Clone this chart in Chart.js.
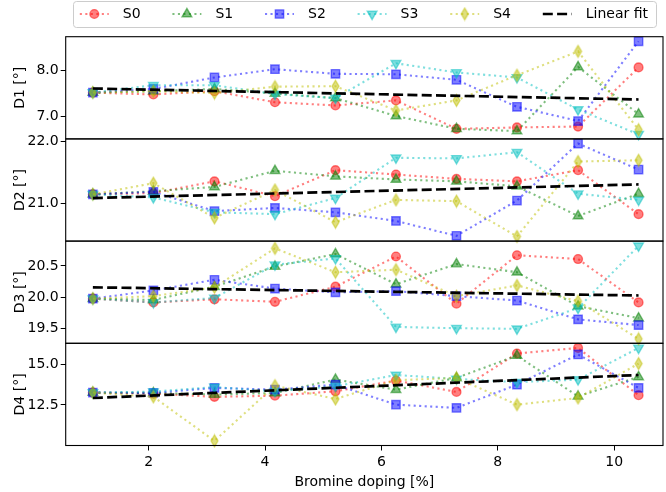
<!DOCTYPE html>
<html>
<head>
<meta charset="utf-8">
<script src="https://cdn.jsdelivr.net/npm/chart.js@4.4.1/dist/chart.umd.min.js"></script>
<style>
  html, body { margin: 0; padding: 0; background: #fff; }
  #wrap { width: 666px; height: 492px; }
</style>
</head>
<body>
<div id="wrap"><canvas id="chart" width="666" height="492"></canvas></div>
<script>
// --- DATA ---
const doping = [1.04, 2.08, 3.13, 4.17, 5.21, 6.25, 7.29, 8.33, 9.38, 10.42];
const seriesNames = ['S0', 'S1', 'S2', 'S3', 'S4'];
const panelNames = ['D1', 'D2', 'D3', 'D4'];

const d1s0 = [7.52, 7.48, 7.55, 7.31, 7.24, 7.35, 6.73, 6.76, 6.78, 8.07];
const d1s1 = [7.52, 7.55, 7.60, 7.50, 7.40, 7.01, 6.73, 6.68, 8.08, 7.05];
const d1s2 = [7.52, 7.60, 7.85, 8.03, 7.93, 7.92, 7.80, 7.21, 6.90, 8.64];
const d1s3 = [7.52, 7.68, 7.68, 7.49, 7.40, 8.16, 7.96, 7.85, 7.15, 6.61];
const d1s4 = [7.52, 7.55, 7.51, 7.65, 7.66, 7.13, 7.35, 7.90, 8.42, 6.71];
const d1fit = [7.61, 7.37];

const d2s0 = [21.14, 21.16, 21.35, 21.11, 21.53, 21.46, 21.39, 21.35, 21.53, 20.82];
const d2s1 = [21.14, 21.19, 21.26, 21.52, 21.43, 21.38, 21.35, 21.27, 20.79, 21.15];
const d2s2 = [21.14, 21.18, 20.87, 20.92, 20.85, 20.71, 20.47, 21.04, 21.96, 21.54];
const d2s3 = [21.14, 21.09, 20.85, 20.82, 21.08, 21.73, 21.72, 21.82, 21.15, 21.05];
const d2s4 = [21.14, 21.32, 20.76, 21.21, 20.69, 21.05, 21.03, 20.46, 21.67, 21.69];
const d2fit = [21.08, 21.30];

const d3s0 = [19.98, 19.92, 19.97, 19.93, 20.17, 20.65, 19.90, 20.67, 20.61, 19.92];
const d3s1 = [19.98, 19.96, 20.17, 20.49, 20.69, 20.21, 20.53, 20.40, 19.86, 19.67];
const d3s2 = [19.98, 20.11, 20.28, 20.14, 20.08, 20.10, 20.02, 19.95, 19.65, 19.56];
const d3s3 = [19.98, 19.92, 19.99, 20.52, 20.62, 19.53, 19.51, 19.50, 19.83, 20.82];
const d3s4 = [19.98, 20.02, 20.16, 20.78, 20.40, 20.44, 20.02, 20.19, 19.94, 19.34];
const d3fit = [20.16, 20.03];

const d4s0 = [13.26, 13.20, 13.00, 13.07, 13.34, 14.00, 13.30, 15.66, 16.00, 13.10];
const d4s1 = [13.26, 13.24, 13.14, 13.24, 14.06, 13.44, 14.16, 15.53, 13.03, 14.22];
const d4s2 = [13.26, 13.24, 13.55, 13.44, 13.75, 12.52, 12.32, 13.75, 15.60, 13.55];
const d4s3 = [13.26, 13.32, 13.60, 13.34, 13.65, 14.34, 14.10, 13.90, 14.06, 16.00];
const d4s4 = [13.26, 13.00, 10.30, 13.69, 12.87, 14.02, 14.16, 12.52, 12.93, 15.04];
const d4fit = [12.93, 14.34];

const xTicks = [2, 4, 6, 8, 10];
const d1Ticks = [7.0, 8.0];
const d2Ticks = [21.0, 22.0];
const d3Ticks = [19.5, 20.0, 20.5];
const d4Ticks = [12.5, 15.0];

// --- STYLE ---
const FONT = { family: 'DejaVu Sans', size: 14 };
const seriesColors = [
    'rgba(255, 0, 0, 0.5)',
    'rgba(0, 128, 0, 0.5)',
    'rgba(0, 0, 255, 0.5)',
    'rgba(0, 191, 191, 0.5)',
    'rgba(191, 191, 0, 0.5)',
];

// thin diamond ('d') marker, not available in chart.js
function thinDiamond(color) {
    const c = document.createElement('canvas');
    c.width = 11; c.height = 15;
    const ctx = c.getContext('2d');
    ctx.beginPath();
    ctx.moveTo(5.5, 1.6);
    ctx.lineTo(9.0, 7.5);
    ctx.lineTo(5.5, 13.4);
    ctx.lineTo(2.0, 7.5);
    ctx.closePath();
    ctx.fillStyle = color;
    ctx.fill();
    ctx.lineWidth = 1.4;
    ctx.strokeStyle = color;
    ctx.stroke();
    return c;
}

const markers = [
    { pointStyle: 'circle', radius: 4.4, rotation: 0 },
    { pointStyle: 'triangle', radius: 5.6, rotation: 0 },
    { pointStyle: 'rect', radius: 5.9, rotation: 0 },
    { pointStyle: 'triangle', radius: 5.6, rotation: 180 },
    { pointStyle: thinDiamond(seriesColors[4]), radius: 6, rotation: 0 },
];

const panelData = [
    [d1s0, d1s1, d1s2, d1s3, d1s4],
    [d2s0, d2s1, d2s2, d2s3, d2s4],
    [d3s0, d3s1, d3s2, d3s3, d3s4],
    [d4s0, d4s1, d4s2, d4s3, d4s4],
];
const panelFits = [d1fit, d2fit, d3fit, d4fit];
const panelTicks = [d1Ticks, d2Ticks, d3Ticks, d4Ticks];
const panelRanges = [[6.51, 8.74], [20.385, 22.035], [19.27, 20.895], [10.015, 16.285]];

// --- DATASETS ---
const datasets = [];
panelNames.forEach((panel, p) => {
    panelData[p].forEach((values, s) => {
        datasets.push({
            label: seriesNames[s],
            yAxisID: 'y' + panel,
            data: values.map((v, i) => ({ x: doping[i], y: v })),
            borderColor: seriesColors[s],
            backgroundColor: seriesColors[s],
            borderWidth: 2.1,
            borderDash: [2.1, 3.4],
            borderCapStyle: 'butt',
            pointStyle: markers[s].pointStyle,
            pointRadius: markers[s].radius,
            pointRotation: markers[s].rotation,
            pointBorderWidth: 1.4,
            tension: 0,
            clip: false,
            order: 10 - s,
        });
    });
    const fit = panelFits[p];
    datasets.push({
        label: 'Linear fit',
        yAxisID: 'y' + panel,
        data: [{ x: doping[0], y: fit[0] }, { x: doping[doping.length - 1], y: fit[1] }],
        borderColor: '#000',
        borderWidth: 2.7,
        borderDash: [10, 4.3],
        borderCapStyle: 'butt',
        pointRadius: 0,
        clip: false,
        order: 0,
    });
});

function yAxis(p) {
    return {
        type: 'linear',
        position: 'left',
        stack: 'panels',
        stackWeight: 1,
        min: panelRanges[p][0],
        max: panelRanges[p][1],
        afterBuildTicks: s => { s.ticks = panelTicks[p].map(v => ({ value: v })); },
        afterFit: s => { s.width = 65.7; },
        ticks: { font: FONT, color: '#000', padding: 2, callback: v => v.toFixed(1) },
        grid: { drawOnChartArea: false, tickLength: 5, tickColor: '#000', tickWidth: 1 },
        border: { display: false },
        title: { display: true, text: panelNames[p] + ' [°]', font: FONT, color: '#000', padding: { top: 12, bottom: 0 } },
    };
}

// last defined left axis ends up on top of the stack
const scales = {
    x: {
        type: 'linear',
        min: 0.573,
        max: 10.84,
        afterBuildTicks: s => { s.ticks = xTicks.map(v => ({ value: v })); },
        afterFit: s => { s.height = 46.5; s.paddingLeft = 0; s.paddingRight = 0; },
        ticks: { font: FONT, color: '#000', padding: 3, callback: v => String(v) },
        grid: { drawOnChartArea: false, tickLength: 5, tickColor: '#000', tickWidth: 1 },
        border: { display: false },
        title: { display: true, text: 'Bromine doping [%]', font: FONT, color: '#000', padding: { top: 0, bottom: 1 } },
    },
    yD4: yAxis(3),
    yD3: yAxis(2),
    yD2: yAxis(1),
    yD1: yAxis(0),
};

// --- PLUGINS ---
const panelFrames = {
    id: 'panelFrames',
    afterDatasetsDraw(chart) {
        const { ctx, chartArea } = chart;
        ctx.save();
        ctx.strokeStyle = '#000';
        ctx.lineWidth = 1.1;
        panelNames.forEach(panel => {
            const s = chart.scales['y' + panel];
            ctx.strokeRect(chartArea.left, s.top, chartArea.right - chartArea.left, s.bottom - s.top);
        });
        ctx.restore();
    }
};

const topLegend = {
    id: 'topLegend',
    afterDraw(chart) {
        const { ctx } = chart;
        ctx.save();
        // frame
        ctx.beginPath();
        ctx.roundRect(73.5, 1.5, 583, 26, 3);
        ctx.fillStyle = 'rgba(255,255,255,0.8)';
        ctx.fill();
        ctx.strokeStyle = '#cccccc';
        ctx.lineWidth = 1;
        ctx.stroke();

        const cy = 14;
        const items = datasets.slice(0, 6);
        items.forEach((ds, i) => {
            const cx = 94.3 + i * 92.6;
            ctx.save();
            ctx.beginPath();
            ctx.setLineDash(ds.borderDash);
            ctx.lineCap = 'butt';
            ctx.lineWidth = ds.borderWidth;
            ctx.strokeStyle = ds.borderColor;
            ctx.moveTo(cx - 14.5, cy);
            ctx.lineTo(cx + 14.5, cy);
            ctx.stroke();
            ctx.restore();
            if (ds.pointRadius > 0) {
                ctx.save();
                ctx.fillStyle = ds.backgroundColor;
                ctx.strokeStyle = ds.borderColor;
                ctx.lineWidth = ds.pointBorderWidth;
                Chart.helpers.drawPoint(ctx, {
                    pointStyle: ds.pointStyle,
                    rotation: ds.pointRotation,
                    radius: ds.pointRadius,
                    borderWidth: ds.pointBorderWidth,
                }, cx, cy);
                ctx.restore();
            }
            ctx.fillStyle = '#000';
            ctx.font = `${FONT.size}px "${FONT.family}"`;
            ctx.textAlign = 'left';
            ctx.textBaseline = 'middle';
            ctx.fillText(ds.label, cx + 28.5, cy);
        });
        ctx.restore();
    }
};

// --- INIT ---
new Chart(document.getElementById('chart'), {
    type: 'line',
    data: { datasets },
    options: {
        responsive: false,
        animation: false,
        events: [],
        // autoPadding would reserve room for the point radius on the right
        layout: { autoPadding: false, padding: { top: 36.7, right: 3, left: 0, bottom: 0 } },
        scales,
        plugins: {
            legend: { display: false },
            tooltip: { enabled: false },
        },
    },
    plugins: [panelFrames, topLegend],
});
</script>
</body>
</html>
